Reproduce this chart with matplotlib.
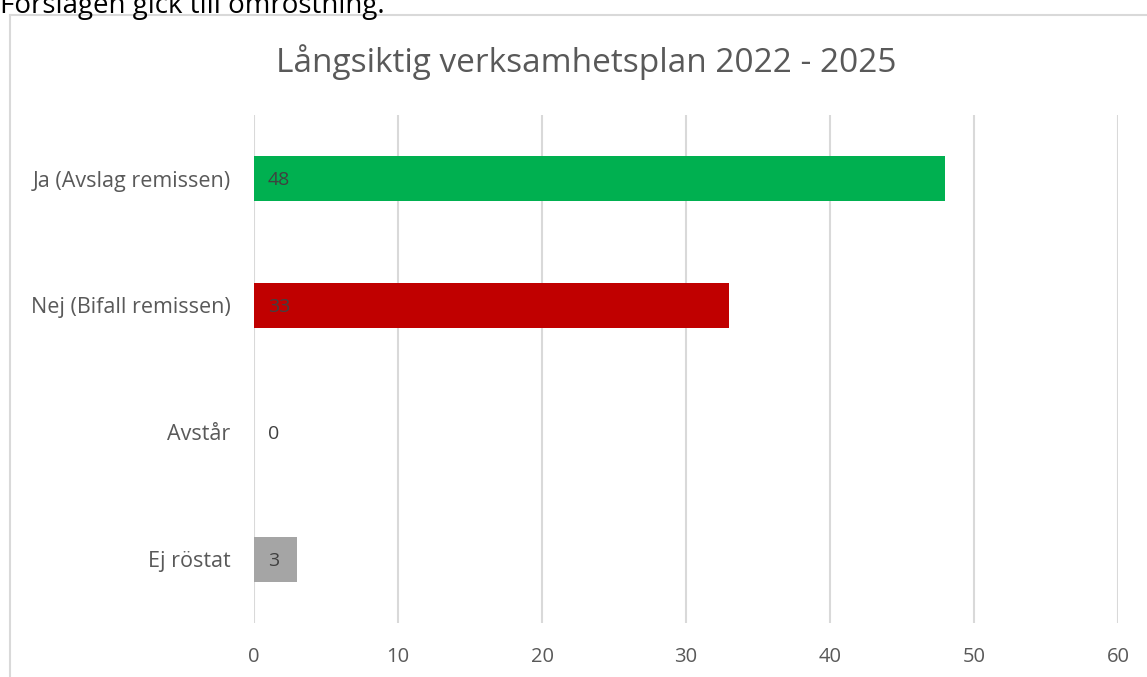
import matplotlib.pyplot as plt
from matplotlib.lines import Line2D

plt.rcParams['font.family'] = ['Open Sans', 'DejaVu Sans']

categories = ['Ja (Avslag remissen)', 'Nej (Bifall remissen)', 'Avstår', 'Ej röstat']
votes = [48, 33, 0, 3]
colors = ['#00B050', '#C00000', '#A5A5A5', '#A5A5A5']
x_ticks = [0, 10, 20, 30, 40, 50, 60]

W, H = 1147, 677
fig = plt.figure(figsize=(W / 100, H / 100), dpi=100)
fig.patch.set_facecolor('white')

# text above the chart (cut off at the top in the original)
fig.text(0, 1 - 13 / H, 'Förslagen gick till omröstning.', fontsize=20,
         color='black', ha='left', va='baseline')

# chart border (runs off the right and bottom edge)
fig.add_artist(Line2D([9.5 / W, 9.5 / W], [1 - 15 / H, 0], color='#d9d9d9', lw=1.5,
                      transform=fig.transFigure))
fig.add_artist(Line2D([9.5 / W, 1], [1 - 15 / H, 1 - 15 / H], color='#d9d9d9', lw=1.5,
                      transform=fig.transFigure))

ax = fig.add_axes([254 / W, 1 - 623 / H, (1118 - 254) / W, (623 - 115) / H])
y = list(range(len(categories)))
ax.barh(y, votes, height=0.36, color=colors, zorder=2)
ax.set_ylim(len(categories) - 0.5, -0.5)
ax.set_xlim(0, 60)
ax.set_xticks(x_ticks)
ax.set_yticks(y)
ax.set_yticklabels(categories)
ax.tick_params(axis='both', length=0, labelsize=14.5, labelcolor='#595959')
ax.tick_params(axis='y', pad=17, labelsize=15.5)
ax.tick_params(axis='x', pad=17)
ax.grid(axis='x', color='#d9d9d9', lw=1.5, zorder=0)
for s in ax.spines.values():
    s.set_visible(False)

for yi, v in zip(y, votes):
    ax.annotate(str(v), (0, yi), xytext=(10, -1), textcoords='offset points',
                ha='left', va='center', fontsize=14, color='#404040', zorder=3)

fig.text(586 / W, 1 - 62 / H, 'Långsiktig verksamhetsplan 2022 - 2025', fontsize=24,
         color='#595959', ha='center', va='center')

fig.savefig('out.png', dpi=100)
